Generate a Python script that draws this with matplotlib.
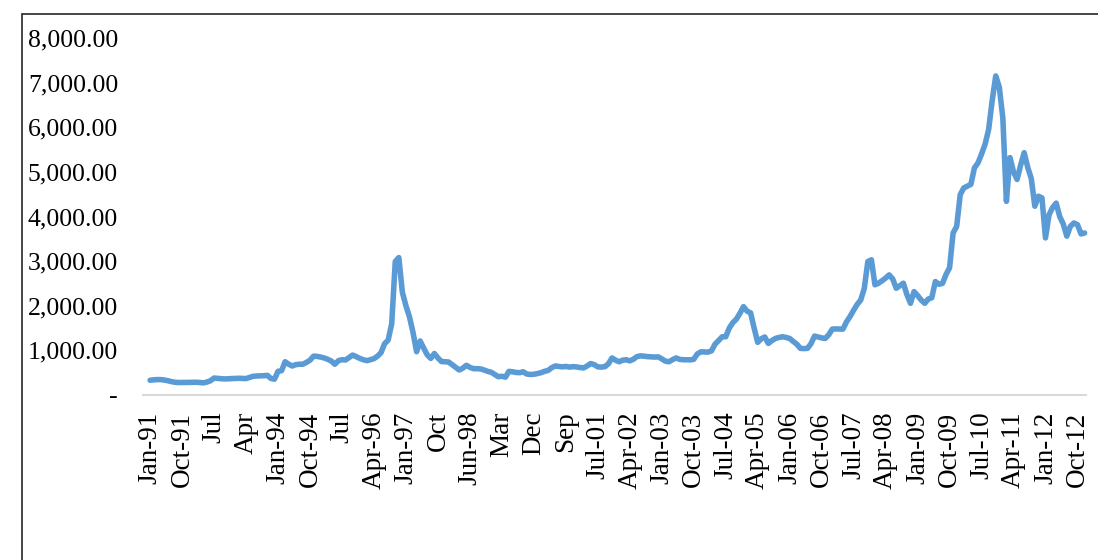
import matplotlib
matplotlib.use("Agg")
import matplotlib.pyplot as plt
from matplotlib.patches import Rectangle
from matplotlib.ticker import FixedLocator, FuncFormatter

# ---- data (monthly values, Jan-91 .. Dec-12) ----
values = [
    330, 340, 345, 345, 335, 320, 300, 285, 280, 280,
    280, 282, 285, 285, 280, 272, 290, 320, 380, 372,
    365, 360, 365, 368, 372, 375, 372, 368, 395, 420,
    425, 430, 432, 440, 370, 355, 530, 545, 745, 690,
    650, 680, 690, 690, 730, 780, 870, 865, 850, 830,
    800, 760, 690, 770, 790, 785, 840, 895, 860, 820,
    790, 770, 790, 815, 870, 950, 1150, 1230, 1600, 2990,
    3080, 2300, 2000, 1750, 1400, 970, 1210, 1050, 900, 820,
    930, 830, 750, 745, 740, 680, 620, 560, 600, 665,
    620, 590, 590, 585, 560, 530, 510, 460, 410, 420,
    400, 530, 520, 505, 500, 520, 470, 460, 465, 480,
    500, 530, 550, 610, 650, 640, 630, 640, 625, 635,
    630, 615, 607, 650, 705, 680, 630, 625, 635, 700,
    830, 780, 745, 780, 790, 765, 800, 860, 877, 870,
    860, 855, 850, 855, 810, 760, 745, 790, 830, 800,
    790, 790, 787, 800, 920, 967, 965, 960, 990, 1140,
    1220, 1305, 1305, 1500, 1620, 1700, 1830, 1980, 1880, 1840,
    1500, 1180, 1260, 1300, 1155, 1220, 1267, 1290, 1305, 1290,
    1267, 1200, 1140, 1045, 1040, 1045, 1150, 1320, 1300, 1280,
    1267, 1350, 1477, 1480, 1478, 1477, 1640, 1760, 1900, 2030,
    2130, 2390, 2990, 3030, 2470, 2505, 2560, 2620, 2692, 2600,
    2392, 2450, 2505, 2250, 2055, 2317, 2230, 2130, 2055, 2150,
    2180, 2542, 2482, 2500, 2700, 2850, 3630, 3780, 4490, 4640,
    4680, 4720, 5090, 5200, 5400, 5620, 5950, 6600, 7150, 6900,
    6200, 4340, 5320, 5000, 4830, 5150, 5430, 5100, 4850, 4230,
    4455, 4417, 3520, 4040, 4200, 4300, 4000, 3830, 3560, 3780,
    3855, 3817, 3610, 3630,
]

tick_labels = ["Jan-91", "Oct-91", "Jul", "Apr", "Jan-94", "Oct-94", "Jul",
               "Apr-96", "Jan-97", "Oct", "Jun-98", "Mar", "Dec", "Sep",
               "Jul-01", "Apr-02", "Jan-03", "Oct-03", "Jul-04", "Apr-05",
               "Jan-06", "Oct-06", "Jul-07", "Apr-08", "Jan-09", "Oct-09",
               "Jul-10", "Apr-11", "Jan-12", "Oct-12"]
label_step = 9
y_ticks = [0, 1000, 2000, 3000, 4000, 5000, 6000, 7000, 8000]

# ---- figure ----
W, H, DPI = 1098, 560, 100
fig = plt.figure(figsize=(W / DPI, H / DPI), dpi=DPI)
font = "Liberation Serif"

ax_l, ax_r, ax_t, ax_b = 143, 1086, 38, 395
ax = fig.add_axes([ax_l / W, 1 - ax_b / H, (ax_r - ax_l) / W, (ax_b - ax_t) / H])

x = list(range(len(values)))
ax.plot(x, values, color="#5b9bd5", lw=4.0, solid_joinstyle="round",
        solid_capstyle="round", clip_on=False)

ax.set_xlim(-2.0, len(values) - 0.6)
ax.set_ylim(y_ticks[0], y_ticks[-1])

for s in ["top", "right", "left"]:
    ax.spines[s].set_visible(False)
ax.spines["bottom"].set_color("#d9d9d9")
ax.spines["bottom"].set_linewidth(1.5)

ax.yaxis.set_major_locator(FixedLocator(y_ticks))
ax.yaxis.set_major_formatter(FuncFormatter(lambda v, p: "-" if v == 0 else f"{v:,.2f}"))
tick_pos = [i * label_step for i in range(len(tick_labels))]
ax.set_xticks(tick_pos)
ax.set_xticklabels(tick_labels, rotation=90, ha="center", va="top")

ax.tick_params(axis="y", length=0, pad=18, labelsize=18.5)
ax.tick_params(axis="x", length=0, pad=12, labelsize=19.5)
for lab in ax.get_xticklabels() + ax.get_yticklabels():
    lab.set_fontfamily(font)
    lab.set_color("black")

# chart-area border (cropped at right and bottom in the reference)
fig.add_artist(Rectangle((22 / W, -0.1), 1.2, 1 - 14 / H + 0.1,
                         transform=fig.transFigure, fill=False,
                         edgecolor="#262626", lw=1.2, clip_on=False))

fig.savefig("out.png", dpi=DPI)
